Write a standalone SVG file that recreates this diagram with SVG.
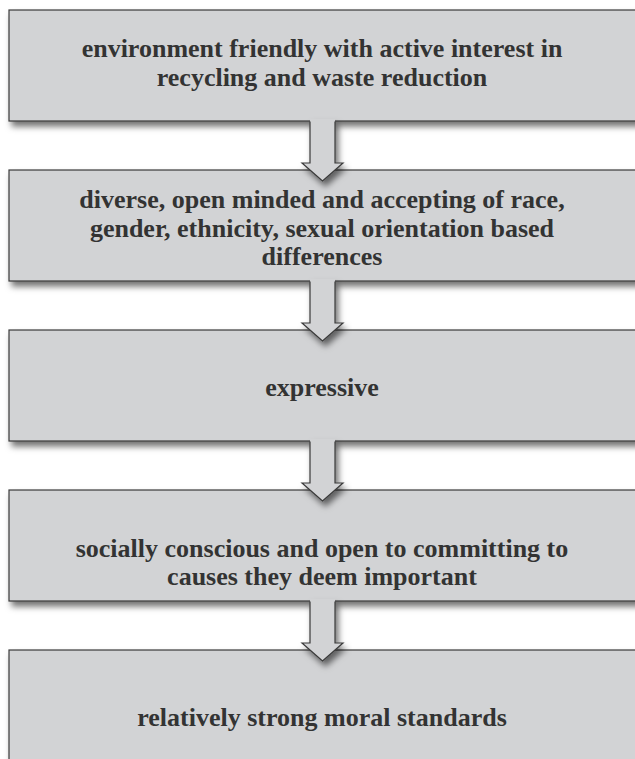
<svg xmlns="http://www.w3.org/2000/svg" width="635" height="759" viewBox="0 0 635 759">
<defs>
<filter id="sh" x="-10%" y="-20%" width="130%" height="150%">
<feDropShadow dx="3" dy="5" stdDeviation="3" flood-color="#000" flood-opacity="0.55"/>
</filter>
</defs>
<style>
.box{fill:#d2d3d5;stroke:#3a3a3a;stroke-width:1.2}
.af{fill:#d2d3d5;stroke:none}
.as{fill:none;stroke:#3a3a3a;stroke-width:1.2;stroke-linejoin:miter}
text{font-family:"Liberation Serif","Times New Roman",serif;font-weight:bold;font-size:26px;fill:#333;text-anchor:middle}
</style>
<rect width="635" height="759" fill="#fff"/>
<g id="n1" filter="url(#sh)"><rect class="box" x="9" y="10" width="640" height="111"/></g>
<g id="n2" filter="url(#sh)"><rect class="box" x="9" y="170" width="640" height="111"/></g>
<g id="n3" filter="url(#sh)"><rect class="box" x="9" y="330" width="640" height="111"/></g>
<g id="n4" filter="url(#sh)"><rect class="box" x="9" y="490" width="640" height="111"/></g>
<g id="n5" filter="url(#sh)"><rect class="box" x="9" y="650" width="640" height="120"/></g>
<g id="connectors">
<g filter="url(#sh)">
<path class="af" d="M310,119 V163 H302 L322.5,181 L343,163 H335 V119 Z"/>
<path class="as" d="M310,121.6 V163 H302 L322.5,181 L343,163 H335 V121.6"/>
</g>
<g filter="url(#sh)">
<path class="af" d="M310,279 V323 H302 L322.5,341 L343,323 H335 V279 Z"/>
<path class="as" d="M310,281.6 V323 H302 L322.5,341 L343,323 H335 V281.6"/>
</g>
<g filter="url(#sh)">
<path class="af" d="M310,439 V483 H302 L322.5,501 L343,483 H335 V439 Z"/>
<path class="as" d="M310,441.6 V483 H302 L322.5,501 L343,483 H335 V441.6"/>
</g>
<g filter="url(#sh)">
<path class="af" d="M310,599 V643 H302 L322.5,661 L343,643 H335 V599 Z"/>
<path class="as" d="M310,601.6 V643 H302 L322.5,661 L343,643 H335 V601.6"/>
</g>
</g>
<g id="labels">
<text x="322" y="57">environment friendly with active interest in</text>
<text x="322" y="86">recycling and waste reduction</text>
<text x="322" y="208">diverse, open minded and accepting of race,</text>
<text x="322" y="236.5">gender, ethnicity, sexual orientation based</text>
<text x="322" y="265">differences</text>
<text x="322" y="396">expressive</text>
<text x="322" y="557">socially conscious and open to committing to</text>
<text x="322" y="585">causes they deem important</text>
<text x="322" y="726">relatively strong moral standards</text>
</g>
</svg>
